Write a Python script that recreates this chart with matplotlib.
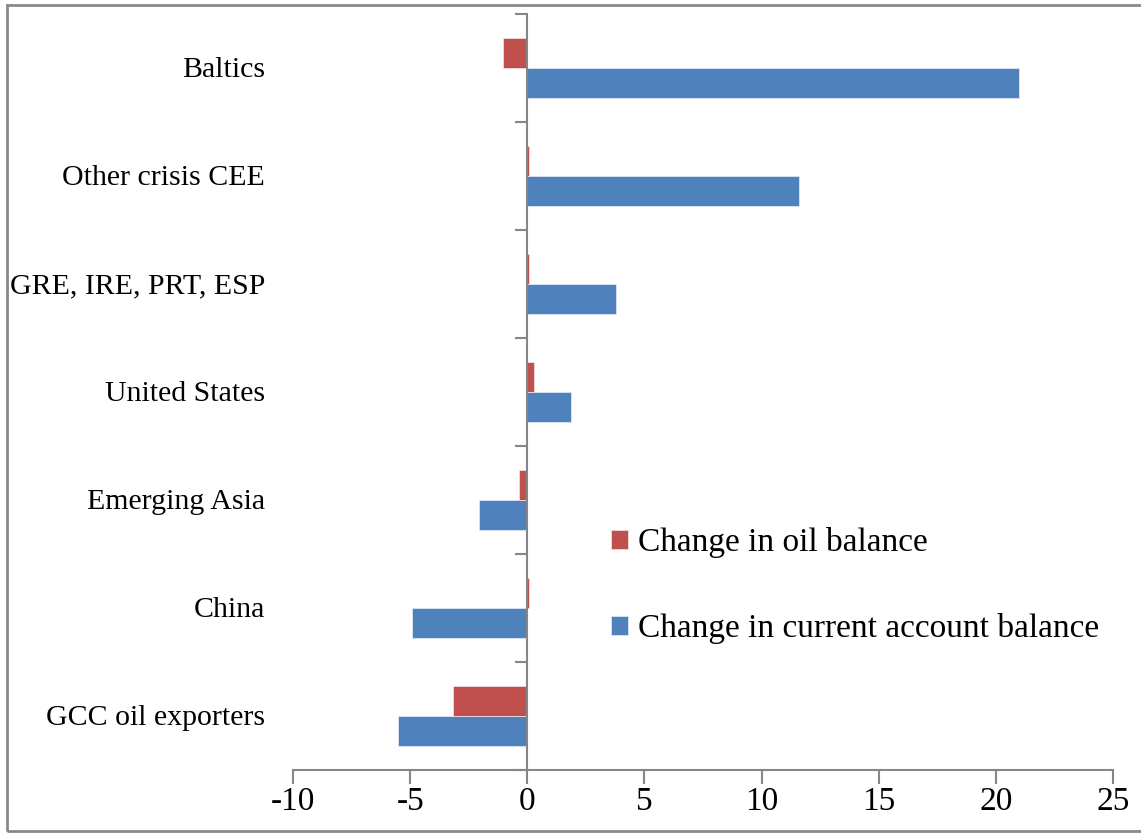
import matplotlib.pyplot as plt
import matplotlib.transforms as mtransforms
from matplotlib.patches import Rectangle
import numpy as np

categories = ["GCC oil exporters", "China", "Emerging Asia", "United States",
              "GRE, IRE, PRT, ESP", "Other crisis CEE", "Baltics"]
oil_balance = [-3.15, 0.07, -0.37, 0.27, 0.06, 0.06, -1.05]
current_account = [-5.52, -4.9, -2.08, 1.88, 3.8, 11.6, 21.0]

red = "#C0504D"
blue = "#4F81BD"
grey = "#868686"

plt.rcParams["font.family"] = ["Liberation Serif", "DejaVu Serif"]
plt.rcParams["axes.unicode_minus"] = False

fig = plt.figure(figsize=(11.41, 8.33), dpi=100)
ax = fig.add_axes([293 / 1141, 1 - 770 / 833, (1113 - 293) / 1141, (770 - 14) / 833])

y = np.arange(len(categories))
h = 0.28
ax.barh(y - h / 2, current_account, height=h, color=blue, edgecolor="#DCE6F2",
        linewidth=0.6, label="Change in current account balance")
ax.barh(y + h / 2, oil_balance, height=h, color=red, edgecolor="#F2DCDB",
        linewidth=0.6, label="Change in oil balance")

ax.set_xlim(-10, 25)
ax.set_ylim(-0.5, len(categories) - 0.5)
ax.set_xticks(np.arange(-10, 26, 5))
ax.tick_params(axis="x", length=10, width=1.5, color=grey, labelsize=24, pad=2)

# vertical axis crosses at zero, ticks between categories
ax.spines["left"].set_position(("data", 0))
ax.spines["left"].set_color(grey)
ax.spines["left"].set_linewidth(1.5)
ax.spines["bottom"].set_color(grey)
ax.spines["bottom"].set_linewidth(1.5)
ax.spines["top"].set_visible(False)
ax.spines["right"].set_visible(False)
ax.set_yticks(np.arange(-0.5, len(categories), 1.0))
ax.set_yticklabels([])
ax.tick_params(axis="y", length=9, width=1.5, color=grey)

trans = mtransforms.blended_transform_factory(ax.transAxes, ax.transData)
for i, name in enumerate(categories):
    ax.text(-28 / 820, i - 0.02, name, transform=trans, ha="right", va="center", fontsize=21.5)

handles, labels = ax.get_legend_handles_labels()
ax.legend(handles[::-1], labels[::-1], loc="center left",
          bbox_to_anchor=(581 / 1141, 1 - 586 / 833), bbox_transform=fig.transFigure,
          frameon=False, fontsize=24, handlelength=0.5, handleheight=0.5,
          handletextpad=0.3, labelspacing=1.65)

fig.patches.append(Rectangle((7 / 1141, 2 / 833), 1.2, 1 - 7 / 833, transform=fig.transFigure,
                             fill=False, edgecolor="#888888", linewidth=2))

fig.savefig("out.png", dpi=100)
